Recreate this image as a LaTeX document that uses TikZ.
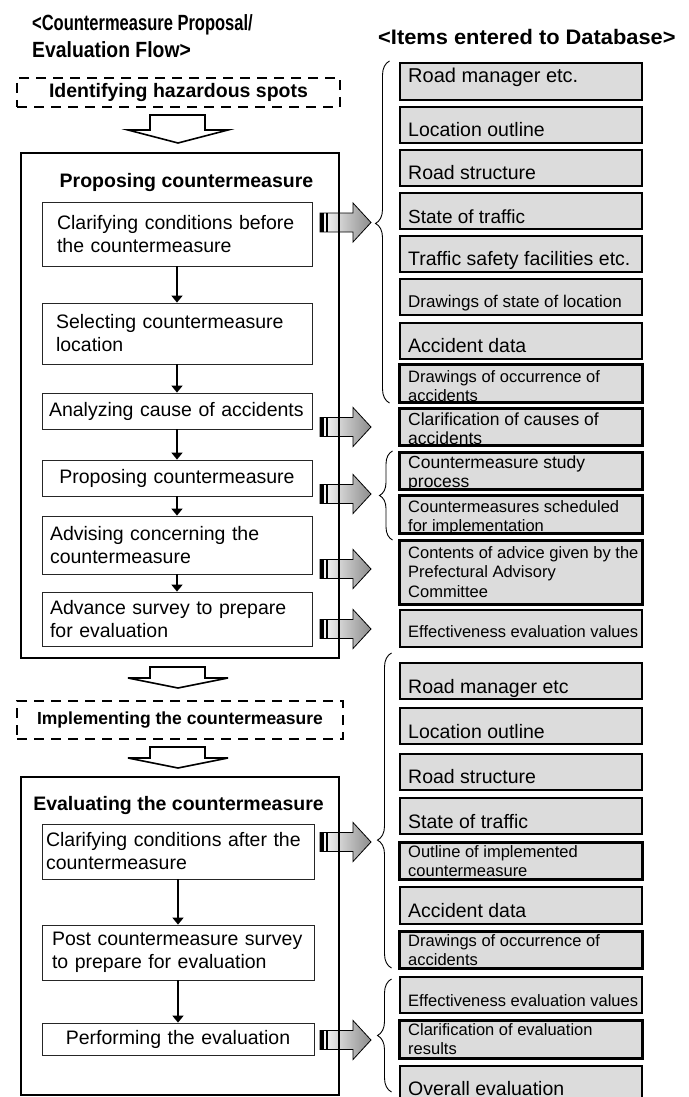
\documentclass[tikz,border=0pt]{standalone}
\usepackage{fontspec}
\setmainfont{Liberation Sans}
\newfontfamily\flowfont[FakeStretch=0.75]{Liberation Sans}
\newfontfamily\flowfontb[FakeStretch=0.88]{Liberation Sans}
\newfontfamily\dbfont[FakeStretch=1.04]{Liberation Sans}
\usetikzlibrary{arrows.meta,decorations.pathreplacing}
\definecolor{itemgray}{HTML}{DCDCDC}

\begin{document}
\begin{tikzpicture}[
  x=1pt, y=-1pt,
  >={Triangle[length=7pt,width=11pt]},
  title/.style={inner sep=0pt, anchor=base west},
  phase/.style={draw, line width=2.6pt, dash pattern=on 10pt off 7pt,
    font=\fontsize{19.5}{23}\selectfont\bfseries},
  stage/.style={draw, line width=2.6pt, minimum width=318pt},
  head/.style={inner sep=0pt, anchor=base, font=\fontsize{19.5}{23}\selectfont\bfseries},
  stepbox/.style={draw=black!85, line width=0.8pt, fill=white, inner ysep=0pt,
    font=\fontsize{19.5}{23}\selectfont, align=left,
    execute at begin node={\hyphenpenalty=10000 }},
  item/.style={draw, line width=2pt, fill=itemgray, minimum width=242pt, inner sep=0pt},
  itemtext/.style={inner sep=0pt, align=left, anchor=base west},
  feed/.style={draw, line width=0.8pt, left color=white, right color=black!45},
  hollow/.style={draw, line width=1.6pt, fill=white, line join=miter},
  group/.style={decorate, decoration={brace, amplitude=14pt}, line width=0.9pt},
]
  \useasboundingbox (0,0) rectangle (688,1097);

  % titles
  \node[title, font=\flowfont\bfseries\fontsize{22}{27}\selectfont] (flowtitle1) at (32,31)
    {<Countermeasure Proposal/};
  \node[title, font=\flowfontb\bfseries\fontsize{22}{27}\selectfont] (flowtitle2) at (32,58)
    {Evaluation Flow>};
  \node[title, font=\dbfont\bfseries\fontsize{21}{25}\selectfont] (dbtitle) at (378,45)
    {<Items entered to Database>};

  % phases outside the stages
  \node[phase, minimum width=323pt, minimum height=29pt] (spots) at (178.5,92.5)
    {Identifying hazardous spots};
  \node[phase, minimum width=326pt, minimum height=38pt, font=\fontsize{17.5}{21}\selectfont\bfseries]
    (implement) at (180,720) {Implementing the countermeasure};

  % hollow arrows between phases
  \foreach \yt/\sh/\hd in {115/15/13, 667/11/10, 747/11/10} {
    \draw[hollow] (150,\yt) -- (205,\yt) -- (205,\yt+\sh) -- (228,\yt+\sh)
      -- (178,\yt+\sh+\hd) -- (128,\yt+\sh) -- (150,\yt+\sh) -- cycle;
  }

  % steps of the proposal
  \node[stepbox, inner xsep=15pt, text width=240pt, minimum height=64pt] (s1) at (177,234)
    {Clarifying conditions before\\the countermeasure};
  \node[stepbox, inner xsep=14pt, text width=242pt, minimum height=61pt] (s2) at (177,333.5)
    {Selecting countermeasure\\location};
  \node[stepbox, inner xsep=7pt, text width=256pt, minimum height=36pt] (s3) at (177,411)
    {Analyzing cause of accidents};
  \node[stepbox, inner xsep=7pt, text width=256pt, minimum height=36pt, align=center] (s4) at (177,478)
    {Proposing countermeasure};
  \node[stepbox, inner xsep=8pt, text width=254pt, minimum height=58pt] (s5) at (177,545)
    {Advising concerning the\\countermeasure};
  \node[stepbox, inner xsep=8pt, text width=254pt, minimum height=54pt] (s6) at (177,619)
    {Advance survey to prepare\\for evaluation};

  % steps of the evaluation
  \node[stepbox, inner xsep=4pt, text width=264pt, minimum height=55pt] (e1) at (178,851.5)
    {Clarifying conditions after the\\countermeasure};
  \node[stepbox, inner xsep=10pt, text width=252pt, minimum height=55pt] (e2) at (178,952.5)
    {Post countermeasure survey\\to prepare for evaluation};
  \node[stepbox, inner xsep=4pt, text width=264pt, minimum height=32pt, align=center] (e3) at (178,1039)
    {Performing the evaluation};

  \draw[->, line width=1.6pt] (s1) -- (s2);
  \draw[->, line width=1.6pt] (s2) -- (s3);
  \draw[->, line width=1.6pt] (s3) -- (s4);
  \draw[->, line width=1.6pt] (s4) -- (s5);
  \draw[->, line width=1.6pt] (s5) -- (s6);
  \draw[->, line width=1.6pt] (e1) -- (e2);
  \draw[->, line width=1.6pt] (e2) -- (e3);

  % arrows into the database
  \foreach \yy in {222.5,427,494,569,629,842,1040} {
    \path[feed] (320,\yy-9.5) -- (353,\yy-9.5) -- (353,\yy-19.5) -- (371,\yy)
      -- (353,\yy+19.5) -- (353,\yy+9.5) -- (320,\yy+9.5) -- cycle;
    \fill (320,\yy-9.5) rectangle (324,\yy+9.5);
    \fill (325.5,\yy-9.5) rectangle (327.5,\yy+9.5);
  }

  % stage frames
  \node[stage, minimum height=505pt] (propose) at (180,405.5) {};
  \node[head] (proposehd) at (186.5,187) {Proposing countermeasure};
  \node[stage, minimum height=318pt] (evaluate) at (180,936) {};
  \node[head] (evaluatehd) at (178.5,810) {Evaluating the countermeasure};

  % database items, one line
  \foreach \nm/\ytop/\ybot/\ybase/\fs/\txt in {
      a1/63/100/83/20/Road manager etc.,
      a2/107/143/136/19.5/Location outline,
      a3/150/186/179/19.5/Road structure,
      a4/193/229/223/19/State of traffic,
      a5/236/272/265/19.5/Traffic safety facilities etc.,
      a6/279/315/307/17/Drawings of state of location,
      a7/323/359/352/19.5/Accident data,
      b5/610/647/637/16.5/Effectiveness evaluation values,
      c1/663/699/693/19.5/Road manager etc,
      c2/708/744/738/19.5/Location outline,
      c3/754/790/783/19.5/Road structure,
      c4/798/834/828/19.5/State of traffic,
      c6/887/924/917/19.5/Accident data,
      d1/977/1013/1006/16.5/Effectiveness evaluation values,
      d3/1066/1110/1095/19.5/Overall evaluation} {
    \node[item, minimum height=\ybot-\ytop] (\nm) at (520.5,{(\ytop+\ybot)/2}) {};
    \node[itemtext, font=\fontsize{\fs}{20}\selectfont] (\nm t) at (408,\ybase) {\txt};
  }

  % database items, two or three lines (cut at the frame)
  \foreach \nm/\ytop/\ybot/\ybase/\fs/\txt in {
      a8/365/402/382/16.5/{Drawings of occurrence of\\accidents},
      b1/409/445/425/17.5/{Clarification of causes of\\accidents},
      b2/453/489/468/17.5/{Countermeasure study\\process},
      b3/496/533/512/16.5/{Countermeasures scheduled\\for implementation},
      b4/541/604/558/16.5/{Contents of advice given by the\\Prefectural Advisory\\Committee},
      c5/843/879/857/16.5/{Outline of implemented\\countermeasure},
      c7/932/968/946/16.5/{Drawings of occurrence of\\accidents},
      d2/1021/1058/1035/16.5/{Clarification of evaluation\\results}} {
    \node[item, minimum height=\ybot-\ytop] (\nm) at (520.5,{(\ytop+\ybot)/2}) {};
    \begin{scope}
      \clip (\nm.south west) rectangle (\nm.north east);
      \node[itemtext, anchor=north west, font=\fontsize{\fs}{19.5}\selectfont] (\nm t)
        at (408,\ybase-13.65) {\strut\txt};
    \end{scope}
    \draw[line width=2pt] (\nm.south west) rectangle (\nm.north east);
  }

  % braces
  \draw[group, decoration={aspect=0.525}] ([xshift=-9pt]a8.south west) -- ([xshift=-9pt,yshift=1pt]a1.north west);
  \draw[group, decoration={amplitude=13pt}] ([xshift=-6pt,yshift=-6pt]b3.south west) -- ([xshift=-6pt,yshift=1pt]b2.north west);
  \draw[group, decoration={aspect=0.406}] ([xshift=-7pt,yshift=1pt]c7.south west) -- ([xshift=-7pt,yshift=9pt]c1.north west);
  \draw[group] ([xshift=-7pt,yshift=-27pt]d3.north west) -- ([xshift=-7pt,yshift=-3pt]d1.north west);
\end{tikzpicture}
\end{document}
